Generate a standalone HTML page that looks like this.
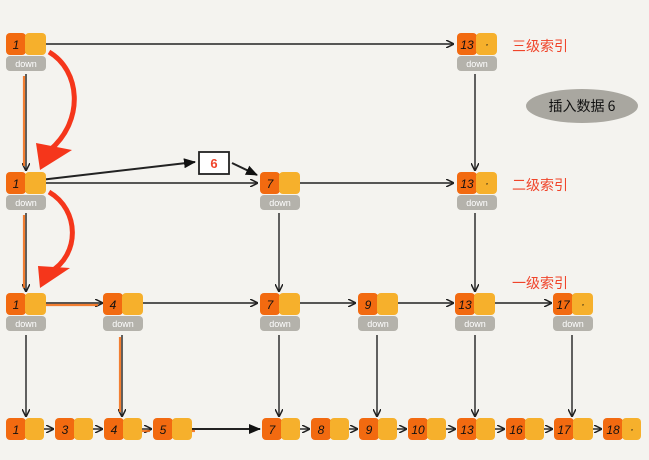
<!DOCTYPE html>
<html><head><meta charset="utf-8"><style>
html,body{margin:0;padding:0;background:#f4f3ef;}
svg{display:block;font-family:"Liberation Sans","Noto Sans CJK SC",sans-serif;}
.o{fill:#f26a10}.y{fill:#f6b02c}.d{fill:#b4b2ab}
.n{font-size:12px;fill:#111;text-anchor:middle;font-style:italic}
.dw{font-size:9px;fill:#fff;text-anchor:middle}
.l{stroke:#222;stroke-width:1.4;fill:none}
.lab{font-size:14px;fill:#f0442a}
</style></head><body>
<svg width="649" height="460" viewBox="0 0 649 460" xmlns="http://www.w3.org/2000/svg">
<defs>
<marker id="a" markerWidth="8" markerHeight="8" refX="7" refY="4" orient="auto" markerUnits="userSpaceOnUse"><path d="M0,0 L8,4 L0,8" fill="none" stroke="#222" stroke-width="1.5"/></marker>
<marker id="af" markerWidth="12" markerHeight="10" refX="11" refY="5" orient="auto" markerUnits="userSpaceOnUse"><path d="M0,0 L12,5 L0,10 Z" fill="#111"/></marker>
</defs>

<!-- horizontal connectors -->
<g class="l">
<line x1="40" y1="44" x2="453" y2="44" marker-end="url(#a)"/>
<line x1="40" y1="183" x2="257" y2="183" marker-end="url(#a)"/>
<line x1="40" y1="180" x2="195" y2="162" marker-end="url(#af)" stroke-width="2"/>
<line x1="232" y1="163" x2="257" y2="175" marker-end="url(#af)" stroke-width="2"/>
<line x1="295" y1="183" x2="453" y2="183" marker-end="url(#a)"/>
<line x1="40" y1="303" x2="102" y2="303" marker-end="url(#a)"/>
<line x1="138" y1="303" x2="257" y2="303" marker-end="url(#a)"/>
<line x1="295" y1="303" x2="355" y2="303" marker-end="url(#a)"/>
<line x1="393" y1="303" x2="453" y2="303" marker-end="url(#a)"/>
<line x1="491" y1="303" x2="551" y2="303" marker-end="url(#a)"/>
<!-- vertical -->
<line x1="26" y1="74" x2="26" y2="170" marker-end="url(#a)"/>
<line x1="475" y1="74" x2="475" y2="170" marker-end="url(#a)"/>
<line x1="26" y1="213" x2="26" y2="291" marker-end="url(#a)"/>
<line x1="279" y1="213" x2="279" y2="291" marker-end="url(#a)"/>
<line x1="475" y1="213" x2="475" y2="291" marker-end="url(#a)"/>
<line x1="26" y1="335" x2="26" y2="416" marker-end="url(#a)"/>
<line x1="122" y1="335" x2="122" y2="416" marker-end="url(#a)"/>
<line x1="279" y1="335" x2="279" y2="416" marker-end="url(#a)"/>
<line x1="377" y1="335" x2="377" y2="416" marker-end="url(#a)"/>
<line x1="475" y1="335" x2="475" y2="416" marker-end="url(#a)"/>
<line x1="572" y1="335" x2="572" y2="416" marker-end="url(#a)"/>
<!-- base -->
<line x1="38" y1="429" x2="53" y2="429" marker-end="url(#a)"/>
<line x1="87" y1="429" x2="102" y2="429" marker-end="url(#a)"/>
<line x1="136" y1="429" x2="151" y2="429" marker-end="url(#a)"/>
<line x1="185" y1="429" x2="260" y2="429" marker-end="url(#af)" stroke-width="2"/>
<line x1="294" y1="429" x2="309" y2="429" marker-end="url(#a)"/>
<line x1="343" y1="429" x2="357" y2="429" marker-end="url(#a)"/>
<line x1="391" y1="429" x2="406" y2="429" marker-end="url(#a)"/>
<line x1="440" y1="429" x2="455" y2="429" marker-end="url(#a)"/>
<line x1="489" y1="429" x2="504" y2="429" marker-end="url(#a)"/>
<line x1="538" y1="429" x2="552" y2="429" marker-end="url(#a)"/>
<line x1="587" y1="429" x2="601" y2="429" marker-end="url(#a)"/>
</g>
<!-- orange path highlights -->
<g stroke="#f26a10" stroke-width="2.2" fill="none" opacity="0.85">
<line x1="24" y1="76" x2="24" y2="166"/>
<line x1="24" y1="215" x2="24" y2="288"/>
<line x1="40" y1="305" x2="98" y2="305"/>
<line x1="120" y1="337" x2="120" y2="412"/>
<line x1="136" y1="431" x2="150" y2="431"/>
<line x1="185" y1="431" x2="195" y2="431"/>
</g>
<!-- red curved arrows -->
<path d="M49,52 C80,70 85,120 50,150" stroke="#f5361b" stroke-width="5" fill="none"/>
<path d="M36,143 L72,150 L40,170 Z" fill="#f5361b"/>
<path d="M49,192 C80,210 80,255 50,272" stroke="#f5361b" stroke-width="5" fill="none"/>
<path d="M38,266 L70,268 L40,288 Z" fill="#f5361b"/>

<!-- index nodes -->
<g>
<rect class="o" x="6" y="33" width="20" height="22" rx="4"/><rect class="y" x="25" y="33" width="21" height="22" rx="4"/><rect class="d" x="6" y="56" width="40" height="15" rx="4"/><text class="n" x="16" y="49">1</text><text class="dw" x="26" y="67">down</text>
<rect class="o" x="457" y="33" width="20" height="22" rx="4"/><rect class="y" x="476" y="33" width="21" height="22" rx="4"/><rect class="d" x="457" y="56" width="40" height="15" rx="4"/><text class="n" x="467" y="49">13</text><text class="n" x="487" y="48">·</text><text class="dw" x="477" y="67">down</text>

<rect class="o" x="6" y="172" width="20" height="22" rx="4"/><rect class="y" x="25" y="172" width="21" height="22" rx="4"/><rect class="d" x="6" y="195" width="40" height="15" rx="4"/><text class="n" x="16" y="188">1</text><text class="dw" x="26" y="206">down</text>
<rect class="o" x="260" y="172" width="20" height="22" rx="4"/><rect class="y" x="279" y="172" width="21" height="22" rx="4"/><rect class="d" x="260" y="195" width="40" height="15" rx="4"/><text class="n" x="270" y="188">7</text><text class="dw" x="280" y="206">down</text>
<rect class="o" x="457" y="172" width="20" height="22" rx="4"/><rect class="y" x="476" y="172" width="21" height="22" rx="4"/><rect class="d" x="457" y="195" width="40" height="15" rx="4"/><text class="n" x="467" y="188">13</text><text class="n" x="487" y="187">·</text><text class="dw" x="477" y="206">down</text>

<rect class="o" x="6" y="293" width="20" height="22" rx="4"/><rect class="y" x="25" y="293" width="21" height="22" rx="4"/><rect class="d" x="6" y="316" width="40" height="15" rx="4"/><text class="n" x="16" y="309">1</text><text class="dw" x="26" y="327">down</text>
<rect class="o" x="103" y="293" width="20" height="22" rx="4"/><rect class="y" x="122" y="293" width="21" height="22" rx="4"/><rect class="d" x="103" y="316" width="40" height="15" rx="4"/><text class="n" x="113" y="309">4</text><text class="dw" x="123" y="327">down</text>
<rect class="o" x="260" y="293" width="20" height="22" rx="4"/><rect class="y" x="279" y="293" width="21" height="22" rx="4"/><rect class="d" x="260" y="316" width="40" height="15" rx="4"/><text class="n" x="270" y="309">7</text><text class="dw" x="280" y="327">down</text>
<rect class="o" x="358" y="293" width="20" height="22" rx="4"/><rect class="y" x="377" y="293" width="21" height="22" rx="4"/><rect class="d" x="358" y="316" width="40" height="15" rx="4"/><text class="n" x="368" y="309">9</text><text class="dw" x="378" y="327">down</text>
<rect class="o" x="455" y="293" width="20" height="22" rx="4"/><rect class="y" x="474" y="293" width="21" height="22" rx="4"/><rect class="d" x="455" y="316" width="40" height="15" rx="4"/><text class="n" x="465" y="309">13</text><text class="dw" x="475" y="327">down</text>
<rect class="o" x="553" y="293" width="20" height="22" rx="4"/><rect class="y" x="572" y="293" width="21" height="22" rx="4"/><rect class="d" x="553" y="316" width="40" height="15" rx="4"/><text class="n" x="563" y="309">17</text><text class="n" x="583" y="308">·</text><text class="dw" x="573" y="327">down</text>
</g>
<!-- base nodes -->
<g>
<rect class="o" x="6" y="418" width="20" height="22" rx="4"/><rect class="y" x="25" y="418" width="19" height="22" rx="4"/><text class="n" x="16" y="434">1</text>
<rect class="o" x="55" y="418" width="20" height="22" rx="4"/><rect class="y" x="74" y="418" width="19" height="22" rx="4"/><text class="n" x="65" y="434">3</text>
<rect class="o" x="104" y="418" width="20" height="22" rx="4"/><rect class="y" x="123" y="418" width="19" height="22" rx="4"/><text class="n" x="114" y="434">4</text>
<rect class="o" x="153" y="418" width="20" height="22" rx="4"/><rect class="y" x="172" y="418" width="20" height="22" rx="4"/><text class="n" x="163" y="434">5</text>
<rect class="o" x="262" y="418" width="20" height="22" rx="4"/><rect class="y" x="281" y="418" width="19" height="22" rx="4"/><text class="n" x="272" y="434">7</text>
<rect class="o" x="311" y="418" width="20" height="22" rx="4"/><rect class="y" x="330" y="418" width="19" height="22" rx="4"/><text class="n" x="321" y="434">8</text>
<rect class="o" x="359" y="418" width="20" height="22" rx="4"/><rect class="y" x="378" y="418" width="19" height="22" rx="4"/><text class="n" x="369" y="434">9</text>
<rect class="o" x="408" y="418" width="20" height="22" rx="4"/><rect class="y" x="427" y="418" width="19" height="22" rx="4"/><text class="n" x="418" y="434">10</text>
<rect class="o" x="457" y="418" width="20" height="22" rx="4"/><rect class="y" x="476" y="418" width="19" height="22" rx="4"/><text class="n" x="467" y="434">13</text>
<rect class="o" x="506" y="418" width="20" height="22" rx="4"/><rect class="y" x="525" y="418" width="19" height="22" rx="4"/><text class="n" x="516" y="434">16</text>
<rect class="o" x="554" y="418" width="20" height="22" rx="4"/><rect class="y" x="573" y="418" width="20" height="22" rx="4"/><text class="n" x="564" y="434">17</text>
<rect class="o" x="603" y="418" width="20" height="22" rx="4"/><rect class="y" x="622" y="418" width="19" height="22" rx="4"/><text class="n" x="613" y="434">18</text><text class="n" x="632" y="433">·</text>
</g>
<!-- new node 6 -->
<rect x="199" y="152" width="30" height="22" fill="#fff" stroke="#222" stroke-width="1.8"/>
<text x="214" y="168" font-size="13" font-weight="bold" fill="#f0442a" text-anchor="middle">6</text>
<!-- labels -->
<text class="lab" x="512" y="51">三级索引</text>
<text class="lab" x="512" y="190">二级索引</text>
<text class="lab" x="512" y="288">一级索引</text>
<ellipse cx="582" cy="106" rx="56" ry="17" fill="#a9a7a0"/>
<text x="582" y="111" font-size="14" fill="#111" text-anchor="middle" font-family="'Noto Sans CJK SC',sans-serif">插入数据 6</text>
</svg>
</body></html>
